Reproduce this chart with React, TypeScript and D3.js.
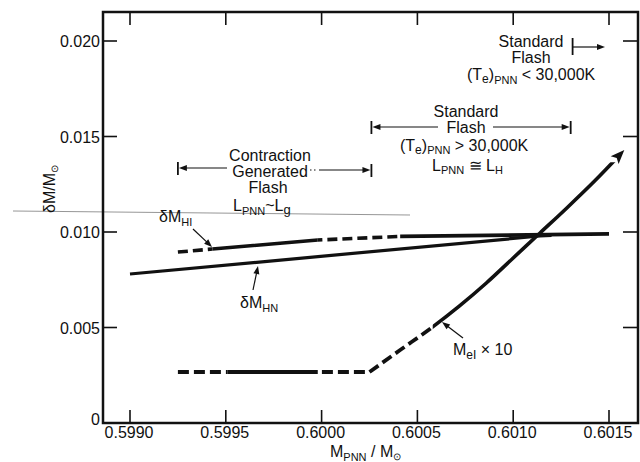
import React from 'react';
import * as d3 from 'd3';

// ---------- data ----------
const xTicks = [0.599, 0.5995, 0.6, 0.6005, 0.601, 0.6015];
const xTickLabels = ['0.5990', '0.5995', '0.6000', '0.6005', '0.6010', '0.6015'];
const yTicks = [0, 0.005, 0.01, 0.015, 0.02];
const yTickLabels = ['0', '0.005', '0.010', '0.015', '0.020'];

// δM_HN (solid)
const hnX = [0.599, 0.60114, 0.6012];
const hnY = [0.0078, 0.00979, 0.00982];

// δM_HI
const hiX = [0.59925, 0.59943, 0.59998, 0.60041, 0.6015];
const hiY = [0.00895, 0.00911, 0.00958, 0.00977, 0.0099];
const hiDashed: [number, number][] = [[0.59925, 0.59943], [0.59998, 0.60041]];

// M_eI x 10 : flat part then rising part
const meFlatX = [0.59925, 0.60025];
const meFlatY = [0.00267, 0.00267];
const meRiseX = [0.60025, 0.60041, 0.60058, 0.60072, 0.60086, 0.601, 0.60114, 0.60128, 0.60143, 0.60158];
const meRiseY = [0.00267, 0.00382, 0.00503, 0.00613, 0.00733, 0.00864, 0.00995, 0.01126, 0.01272, 0.01429];
const meDashed: [number, number][] = [[0.59925, 0.59951], [0.59998, 0.60058]];

// bracket ranges (x values)
const contractionRange = [0.59925, 0.60026];
const standardHotRange = [0.60026, 0.6013];
const standardCoolStart = 0.60131;

// ---------- layout ----------
const W = 640, H = 462;
const F = { l: 103, t: 12, r: 638, b: 423 };
const FONT = "'Liberation Sans', Arial, sans-serif";
const INK = '#111';

const x = d3.scaleLinear().domain([0.599, 0.6015]).range([130, 609]);
const y = d3.scaleLinear().domain([0, 0.02]).range([423, 41]);

function Arrow({ x1, y1, x2, y2, len = 8, hw = 3, sw = 1.2 }: any) {
  const dx = x2 - x1, dy = y2 - y1;
  const L = Math.hypot(dx, dy);
  const ux = dx / L, uy = dy / L;
  const bx = x2 - ux * len, by = y2 - uy * len;
  const px = -uy * hw, py = ux * hw;
  return (
    <g>
      <line x1={x1} y1={y1} x2={bx + ux} y2={by + uy} stroke={INK} strokeWidth={sw} />
      <polygon points={`${x2},${y2} ${bx + px},${by + py} ${bx - px},${by - py}`} fill={INK} />
    </g>
  );
}

function clipRects(intervals: [number, number][]) {
  return intervals.map(([a, b], i) => (
    <rect key={i} x={x(a)} y={0} width={x(b) - x(a)} height={H} />
  ));
}
function complement(intervals: [number, number][], lo: number, hi: number): [number, number][] {
  const out: [number, number][] = [];
  let cur = lo;
  for (const [a, b] of intervals) {
    if (a > cur) out.push([cur, a]);
    cur = Math.max(cur, b);
  }
  if (cur < hi) out.push([cur, hi]);
  return out;
}

export default function App() {
  const lin = d3.line<[number, number]>().x(d => x(d[0])).y(d => y(d[1]));
  const mono = d3.line<[number, number]>().x(d => x(d[0])).y(d => y(d[1])).curve(d3.curveMonotoneX);

  const hnPath = lin(hnX.map((v, i) => [v, hnY[i]]))!;
  const hiPath = lin(hiX.map((v, i) => [v, hiY[i]]))!;

  const risePts: [number, number][] = meRiseX.map((v, i) => [v, meRiseY[i]]);
  const tip = risePts[risePts.length - 1];
  const prev = risePts[risePts.length - 2];
  const tx = x(tip[0]), ty = y(tip[1]);
  const pvx = x(prev[0]), pvy = y(prev[1]);
  const dl = Math.hypot(tx - pvx, ty - pvy);
  const ux = (tx - pvx) / dl, uy = (ty - pvy) / dl;
  const aLen = 14, aHw = 5.5;
  const meFlatPath = lin(meFlatX.map((v, i) => [v, meFlatY[i]]))!;
  const meRisePath = mono(risePts)!;
  const bx = tx - ux * aLen, by = ty - uy * aLen;

  const lo = 0.5985, hi = 0.6025;

  return (
    <svg width={W} height={H} style={{ position: 'absolute', left: 0, top: 0, background: '#fff' }}
      fontFamily={FONT} fill={INK}>
      <defs>
        <clipPath id="hiDash">{clipRects(hiDashed)}</clipPath>
        <clipPath id="hiSolid">{clipRects(complement(hiDashed, lo, hi))}</clipPath>
        <clipPath id="meDash">{clipRects(meDashed)}</clipPath>
        <clipPath id="meSolid">{clipRects(complement(meDashed, lo, hi))}</clipPath>
        <clipPath id="meRiseCut">
          <rect x={0} y={by + 2} width={W} height={H} />
        </clipPath>
      </defs>
      <rect x={0} y={0} width={W} height={H} fill="#fff" />

      {/* faint scan line */}
      <line x1={13} y1={211} x2={410} y2={215} stroke="#8a8a8a" strokeWidth={0.9} />

      {/* frame */}
      <rect x={F.l} y={F.t} width={F.r - F.l} height={F.b - F.t} fill="none" stroke={INK} strokeWidth={2.5} />

      {/* x ticks */}
      {xTicks.map((t, i) => (
        <g key={'xt' + i}>
          <line x1={x(t)} x2={x(t)} y1={F.b} y2={F.b - 13} stroke={INK} strokeWidth={1.6} />
          <line x1={x(t)} x2={x(t)} y1={F.t} y2={F.t + 13} stroke={INK} strokeWidth={1.6} />
          <text x={x(t) - 1} y={438} textAnchor="middle" fontSize={16}>{xTickLabels[i]}</text>
        </g>
      ))}
      {/* y ticks */}
      {yTicks.map((t, i) => (
        <g key={'yt' + i}>
          {t > 0 && <line x1={F.l} x2={F.l + 14} y1={y(t)} y2={y(t)} stroke={INK} strokeWidth={1.6} />}
          {t > 0 && <line x1={F.r} x2={F.r - 15} y1={y(t)} y2={y(t)} stroke={INK} strokeWidth={1.6} />}
          <text x={100} y={t === 0 ? y(t) + 2 : y(t) + 6} textAnchor="end" fontSize={16}>{yTickLabels[i]}</text>
        </g>
      ))}

      {/* axis titles */}
      <text x={330} y={457} fontSize={16}>
        M<tspan dy={4} fontSize={11}>PNN</tspan><tspan dy={-4}> / M</tspan><tspan dy={3} fontSize={10}>⊙</tspan>
      </text>
      <text transform="translate(55,189) rotate(-90)" textAnchor="middle" fontSize={16}>
        δM/M<tspan dy={3} fontSize={10}>⊙</tspan>
      </text>

      {/* δM_HN */}
      <path d={hnPath} fill="none" stroke={INK} strokeWidth={3.2} />
      {/* δM_HI */}
      <path d={hiPath} fill="none" stroke={INK} strokeWidth={3.6} clipPath="url(#hiSolid)" />
      <path d={hiPath} fill="none" stroke={INK} strokeWidth={3.6} strokeDasharray="10,5" clipPath="url(#hiDash)" />
      {/* M_eI x 10 */}
      <g clipPath="url(#meSolid)">
        <path d={meFlatPath} fill="none" stroke={INK} strokeWidth={3.8} />
        <g clipPath="url(#meRiseCut)">
          <path d={meRisePath} fill="none" stroke={INK} strokeWidth={3.6} />
        </g>
      </g>
      <g clipPath="url(#meDash)">
        <path d={meFlatPath} fill="none" stroke={INK} strokeWidth={3.8} strokeDasharray="11,5" />
        <path d={meRisePath} fill="none" stroke={INK} strokeWidth={3.8} strokeDasharray="11,5" />
      </g>
      <polygon
        points={`${tx},${ty} ${bx - uy * aHw},${by + ux * aHw} ${bx + ux * 3},${by + uy * 3} ${bx + uy * aHw},${by - ux * aHw}`}
        fill={INK}
      />

      {/* curve labels */}
      <text x={159} y={222} fontSize={16}>δM<tspan dy={4} fontSize={11}>HI</tspan></text>
      <Arrow x1={193} y1={229} x2={212} y2={247} />
      <text x={240} y={308} fontSize={16}>δM<tspan dy={4} fontSize={11}>HN</tspan></text>
      <Arrow x1={253} y1={290} x2={258} y2={266} />
      <text x={453} y={355} fontSize={16}>M<tspan dy={4} fontSize={12}>eI</tspan><tspan dy={-4}> × 10</tspan></text>
      <Arrow x1={463} y1={338} x2={442} y2={322} />

      {/* Contraction generated flash bracket */}
      <text x={270} y={161} textAnchor="middle" fontSize={16}>Contraction</text>
      <text x={270} y={177} textAnchor="middle" fontSize={16}>Generated</text>
      <text x={268} y={193} textAnchor="middle" fontSize={16}>Flash</text>
      <text x={233} y={211} fontSize={16}>L<tspan dy={4} fontSize={11}>PNN</tspan><tspan dy={-4}>~L</tspan><tspan dy={3} fontSize={13}>g</tspan></text>
      <line x1={x(contractionRange[0])} x2={x(contractionRange[0])} y1={162} y2={175} stroke={INK} strokeWidth={1.8} />
      <Arrow x1={227} y1={168} x2={x(contractionRange[0]) + 1} y2={168} />
      <line x1={310} x2={318} y1={170} y2={170} stroke={INK} strokeWidth={1.2} strokeDasharray="1.5,2.5" />
      <Arrow x1={319} y1={170} x2={x(contractionRange[1]) - 1} y2={170} />
      <line x1={x(contractionRange[1])} x2={x(contractionRange[1])} y1={164} y2={177} stroke={INK} strokeWidth={1.8} />

      {/* Standard flash (hot) */}
      <text x={466} y={117} textAnchor="middle" fontSize={16}>Standard</text>
      <text x={466} y={133} textAnchor="middle" fontSize={16}>Flash</text>
      <text x={400} y={151} fontSize={16}>(T<tspan dy={3} fontSize={12}>e</tspan><tspan dy={-3}>)</tspan><tspan dy={3} fontSize={11}>PNN</tspan><tspan dy={-3}> &gt; 30,000K</tspan></text>
      <text x={432} y={171} fontSize={16}>L<tspan dy={3} fontSize={11}>PNN</tspan><tspan dy={-3}> ≅ L</tspan><tspan dy={3} fontSize={11}>H</tspan></text>
      <line x1={x(standardHotRange[0])} x2={x(standardHotRange[0])} y1={121} y2={134} stroke={INK} strokeWidth={1.8} />
      <Arrow x1={438} y1={127} x2={x(standardHotRange[0]) + 1} y2={127} />
      <Arrow x1={493} y1={127} x2={x(standardHotRange[1]) - 1} y2={127} />
      <line x1={x(standardHotRange[1])} x2={x(standardHotRange[1])} y1={121} y2={134} stroke={INK} strokeWidth={1.8} />

      {/* Standard flash (cool) */}
      <text x={531} y={47} textAnchor="middle" fontSize={16}>Standard</text>
      <text x={531} y={63} textAnchor="middle" fontSize={16}>Flash</text>
      <text x={467} y={80} fontSize={16}>(T<tspan dy={3} fontSize={12}>e</tspan><tspan dy={-3}>)</tspan><tspan dy={4} fontSize={11}>PNN</tspan><tspan dy={-4}> &lt; 30,000K</tspan></text>
      <line x1={x(standardCoolStart)} x2={x(standardCoolStart)} y1={38} y2={55} stroke={INK} strokeWidth={1.8} />
      <Arrow x1={x(standardCoolStart)} y1={47} x2={605} y2={47} />
    </svg>
  );
}
